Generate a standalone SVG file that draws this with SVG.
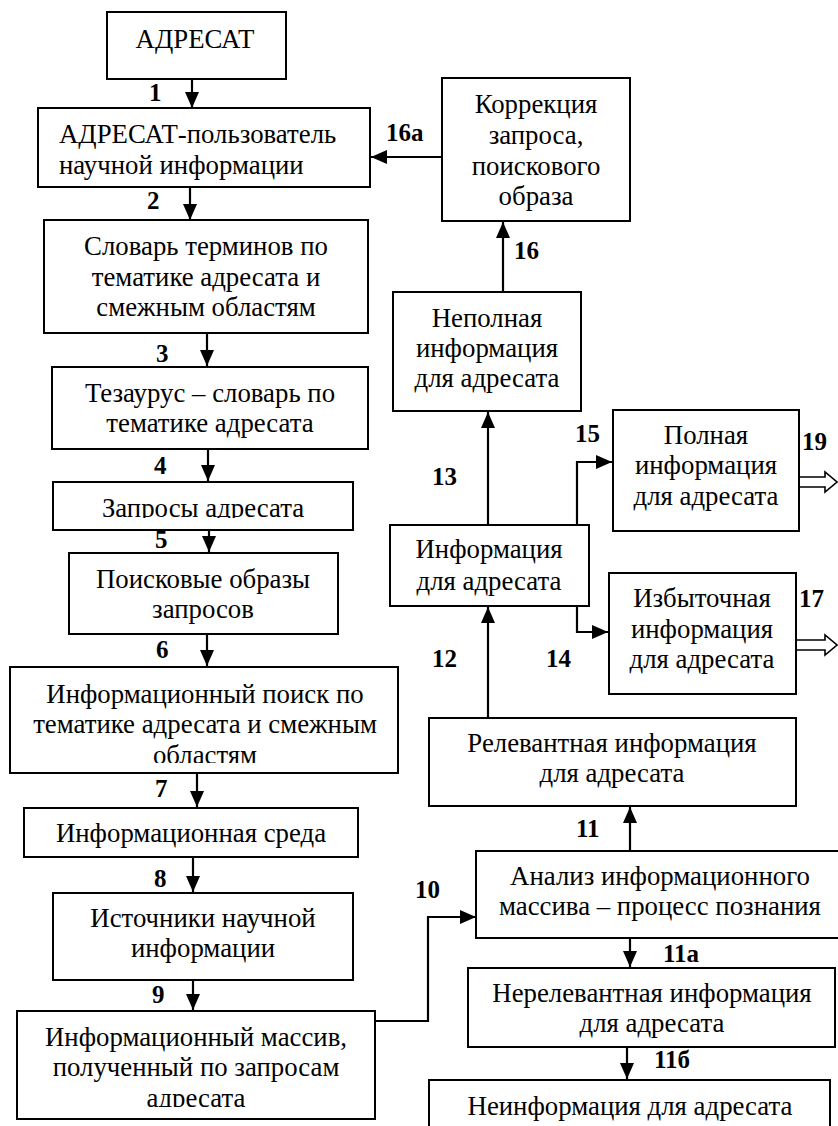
<svg xmlns="http://www.w3.org/2000/svg" width="838" height="1126" viewBox="0 0 838 1126">
<style>
.box{fill:#fff;stroke:#000;stroke-width:2}
.t{font-size:26.8px;fill:#000;text-anchor:middle}
.ts{font-size:26.8px;fill:#000}
.lb{font-size:25px;font-weight:bold;fill:#000}
.c{fill:none;stroke:#000;stroke-width:2.2}
.blk{fill:#fff;stroke:#000;stroke-width:1.6;stroke-linejoin:miter}
</style>
<defs>
<marker id="ah" markerUnits="userSpaceOnUse" markerWidth="16" markerHeight="14" refX="16" refY="7" orient="auto">
<path d="M0,0 L16,7 L0,14 Z" fill="#000"/>
</marker>
<clipPath id="cl5"><rect x="53" y="482" width="300" height="36"/></clipPath>
<clipPath id="cl7"><rect x="10" y="667" width="388" height="96"/></clipPath>
<clipPath id="cl10"><rect x="17" y="1011" width="358" height="96"/></clipPath>
</defs>
<rect width="838" height="1126" fill="#fff"/>

<g id="connectors">
<path class="c" d="M192,79 V108" marker-end="url(#ah)"/>
<path class="c" d="M190,188 V220" marker-end="url(#ah)"/>
<path class="c" d="M207,333 V366" marker-end="url(#ah)"/>
<path class="c" d="M208,449 V481" marker-end="url(#ah)"/>
<path class="c" d="M209,530 V552" marker-end="url(#ah)"/>
<path class="c" d="M207,634 V666" marker-end="url(#ah)"/>
<path class="c" d="M197,773 V807" marker-end="url(#ah)"/>
<path class="c" d="M193,857 V892" marker-end="url(#ah)"/>
<path class="c" d="M193,980 V1010" marker-end="url(#ah)"/>
<path class="c" d="M375,1021 H428 V917 H476" marker-end="url(#ah)"/>
<path class="c" d="M630,851 V807" marker-end="url(#ah)"/>
<path class="c" d="M630,938 V967" marker-end="url(#ah)"/>
<path class="c" d="M627,1047 V1079" marker-end="url(#ah)"/>
<path class="c" d="M488,718 V607" marker-end="url(#ah)"/>
<path class="c" d="M488,525 V412" marker-end="url(#ah)"/>
<path class="c" d="M577,606 V632 H608" marker-end="url(#ah)"/>
<path class="c" d="M545,525 H577 V462 H612" marker-end="url(#ah)"/>
<path class="c" d="M503,292 V222" marker-end="url(#ah)"/>
<path class="c" d="M442,157 H371" marker-end="url(#ah)"/>
<path class="blk" d="M788,477 H825 V472 L837,482 L825,492 V487 H788 L794,482 Z"/>
<path class="blk" d="M788,640 H825 V635 L837,645 L825,655 V650 H788 L794,645 Z"/>
</g>

<g id="labels" font-family="Liberation Serif, Times New Roman, serif">
<text class="lb" x="149" y="101">1</text>
<text class="lb" x="147" y="209">2</text>
<text class="lb" x="156" y="362">3</text>
<text class="lb" x="154" y="474">4</text>
<text class="lb" x="155" y="548">5</text>
<text class="lb" x="156" y="658">6</text>
<text class="lb" x="155" y="797">7</text>
<text class="lb" x="154" y="887">8</text>
<text class="lb" x="152" y="1003">9</text>
<text class="lb" x="415" y="898">10</text>
<text class="lb" x="576" y="837">11</text>
<text class="lb" x="663" y="962">11а</text>
<text class="lb" x="654" y="1068">11б</text>
<text class="lb" x="432" y="667">12</text>
<text class="lb" x="432" y="485">13</text>
<text class="lb" x="546" y="667">14</text>
<text class="lb" x="575" y="442">15</text>
<text class="lb" x="514" y="259">16</text>
<text class="lb" x="386" y="141">16а</text>
<text class="lb" x="799" y="607">17</text>
<text class="lb" x="802" y="450">19</text>
</g>

<g id="nodes" font-family="Liberation Serif, Times New Roman, serif">
<g id="n-adresat">
<rect class="box" x="107" y="12" width="179" height="67"/>
<text class="t" x="195" y="48">АДРЕСАТ</text>
</g>
<g id="n-polzovatel">
<rect class="box" x="38" y="108" width="332" height="79"/>
<text class="ts" x="59" y="143">АДРЕСАТ-пользователь</text>
<text class="ts" x="59" y="174">научной информации</text>
</g>
<g id="n-slovar">
<rect class="box" x="44" y="220" width="324" height="113"/>
<text class="t" x="206" y="255">Словарь терминов по</text>
<text class="t" x="206" y="286">тематике адресата и</text>
<text class="t" x="206" y="316">смежным областям</text>
</g>
<g id="n-tezaurus">
<rect class="box" x="52" y="367" width="316" height="82"/>
<text class="t" x="210" y="402">Тезаурус – словарь по</text>
<text class="t" x="210" y="432">тематике адресата</text>
</g>
<g id="n-zaprosy">
<rect class="box" x="53" y="482" width="300" height="48"/>
<text class="t" x="203" y="517" clip-path="url(#cl5)">Запросы адресата</text>
</g>
<g id="n-obrazy">
<rect class="box" x="69" y="553" width="269" height="81"/>
<text class="t" x="203" y="588">Поисковые образы</text>
<text class="t" x="203" y="618">запросов</text>
</g>
<g id="n-poisk">
<rect class="box" x="10" y="667" width="388" height="106"/>
<g clip-path="url(#cl7)">
<text class="t" x="205" y="703">Информационный поиск по</text>
<text class="t" x="205" y="733">тематике адресата и смежным</text>
<text class="t" x="205" y="764">областям</text>
</g>
</g>
<g id="n-sreda">
<rect class="box" x="24" y="808" width="334" height="49"/>
<text class="t" x="191" y="842">Информационная среда</text>
</g>
<g id="n-istochniki">
<rect class="box" x="53" y="893" width="300" height="87"/>
<text class="t" x="203" y="927">Источники научной</text>
<text class="t" x="203" y="957">информации</text>
</g>
<g id="n-massiv">
<rect class="box" x="17" y="1011" width="358" height="108"/>
<g clip-path="url(#cl10)">
<text class="t" x="196" y="1046">Информационный массив,</text>
<text class="t" x="196" y="1076">полученный по запросам</text>
<text class="t" x="196" y="1107">адресата</text>
</g>
</g>
<g id="n-korrekciya">
<rect class="box" x="442" y="78" width="188" height="143"/>
<text class="t" x="536" y="113">Коррекция</text>
<text class="t" x="536" y="144">запроса,</text>
<text class="t" x="536" y="175">поискового</text>
<text class="t" x="536" y="205">образа</text>
</g>
<g id="n-nepolnaya">
<rect class="box" x="393" y="292" width="188" height="119"/>
<text class="t" x="487" y="327">Неполная</text>
<text class="t" x="487" y="357">информация</text>
<text class="t" x="487" y="387">для адресата</text>
</g>
<g id="n-polnaya">
<rect class="box" x="613" y="410" width="186" height="121"/>
<text class="t" x="706" y="444">Полная</text>
<text class="t" x="706" y="474">информация</text>
<text class="t" x="706" y="505">для адресата</text>
</g>
<g id="n-informaciya">
<rect class="box" x="390" y="525" width="199" height="81"/>
<text class="t" x="489" y="558">Информация</text>
<text class="t" x="489" y="590">для адресата</text>
</g>
<g id="n-izbytochnaya">
<rect class="box" x="609" y="573" width="187" height="121"/>
<text class="t" x="702" y="607">Избыточная</text>
<text class="t" x="702" y="638">информация</text>
<text class="t" x="702" y="668">для адресата</text>
</g>
<g id="n-relevantnaya">
<rect class="box" x="429" y="718" width="367" height="88"/>
<text class="t" x="612" y="752">Релевантная информация</text>
<text class="t" x="612" y="782">для адресата</text>
</g>
<g id="n-analiz">
<rect class="box" x="476" y="851" width="372" height="87"/>
<text class="t" x="660" y="885">Анализ информационного</text>
<text class="t" x="660" y="915">массива – процесс познания</text>
</g>
<g id="n-nerelevantnaya">
<rect class="box" x="468" y="968" width="367" height="79"/>
<text class="t" x="652" y="1002">Нерелевантная информация</text>
<text class="t" x="652" y="1032">для адресата</text>
</g>
<g id="n-neinformaciya">
<rect class="box" x="429" y="1080" width="401" height="60"/>
<text class="t" x="630" y="1115">Неинформация для адресата</text>
</g>
</g>
</svg>
